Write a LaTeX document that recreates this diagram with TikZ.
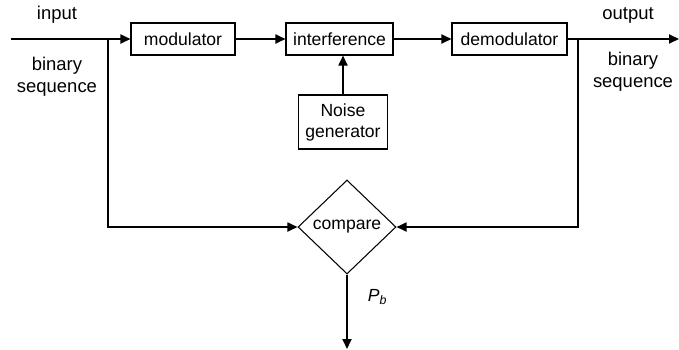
\documentclass[tikz,border=0pt]{standalone}
\usepackage{fontspec}
\setmainfont{Liberation Sans}
\usetikzlibrary{arrows.meta,shapes.geometric}
\tikzset{
	blk/.style={draw, semithick, inner sep=0pt, minimum height=0.64cm},
	sig/.style={line width=1pt, -{Triangle[length=2mm,width=1.8mm]}},
	lbl/.style={align=center, font=\fontsize{10.5}{12.5}\selectfont}
}

\begin{document}
\begin{tikzpicture}[x=0.02cm, y=-0.02cm, font=\fontsize{10}{12}\selectfont]
		%%%%% FRAME %%%%%
		\useasboundingbox (0, 0) rectangle (679, 349);
		
		%%%%% BLOCKS %%%%%
		\node[blk, minimum width=2.08cm] (mod) at (183, 39) {modulator};
		\node[blk, minimum width=2.14cm] (inter) at (339.5, 39) {interference};
		\node[blk, minimum width=2.3cm] (demod) at (509.5, 39) {demodulator};
		\node[blk, minimum width=1.78cm, minimum height=1.08cm, align=center] (noise) at (343, 122) {Noise\\generator};
		\node[draw, semithick, diamond, inner sep=0pt, minimum width=1.96cm, minimum height=1.88cm] (cmp) at (347, 227) {compare};
		
		%%%%% END POINTS %%%%%
		\coordinate (inbeg) at (11, 39);
		\coordinate (tapin) at (108, 39);
		\coordinate (tapout) at (578, 39);
		\coordinate (outend) at (679, 39);
		\coordinate (pbend) at (347, 349);
		
		%%%%% SIGNAL PATH %%%%%
		\draw[sig] (inbeg) -- (mod.west);
		\draw[sig] (mod.east) -- (inter.west);
		\draw[sig] (inter.east) -- (demod.west);
		\draw[sig] (demod.east) -- (outend);
		\draw[sig] (noise.north) -- (noise.north |- inter.south);
		
		%%%%% COMPARISON %%%%%
		\draw[sig] (tapin) |- (cmp.west);
		\draw[sig] (tapout) |- (cmp.east);
		\draw[sig] (cmp.south) -- (pbend) node[pos=0.3, right=8pt] {\textit{P\textsubscript{b}}};
		
		%%%%% LABELS %%%%%
		\node[lbl] (inlbl) at (57, 15) {input};
		\node[lbl] (inseq) at (57, 77) {binary\\sequence};
		\node[lbl] (outlbl) at (628, 15) {output};
		\node[lbl] (outseq) at (633, 72) {binary\\sequence};
	\end{tikzpicture}
\end{document}
